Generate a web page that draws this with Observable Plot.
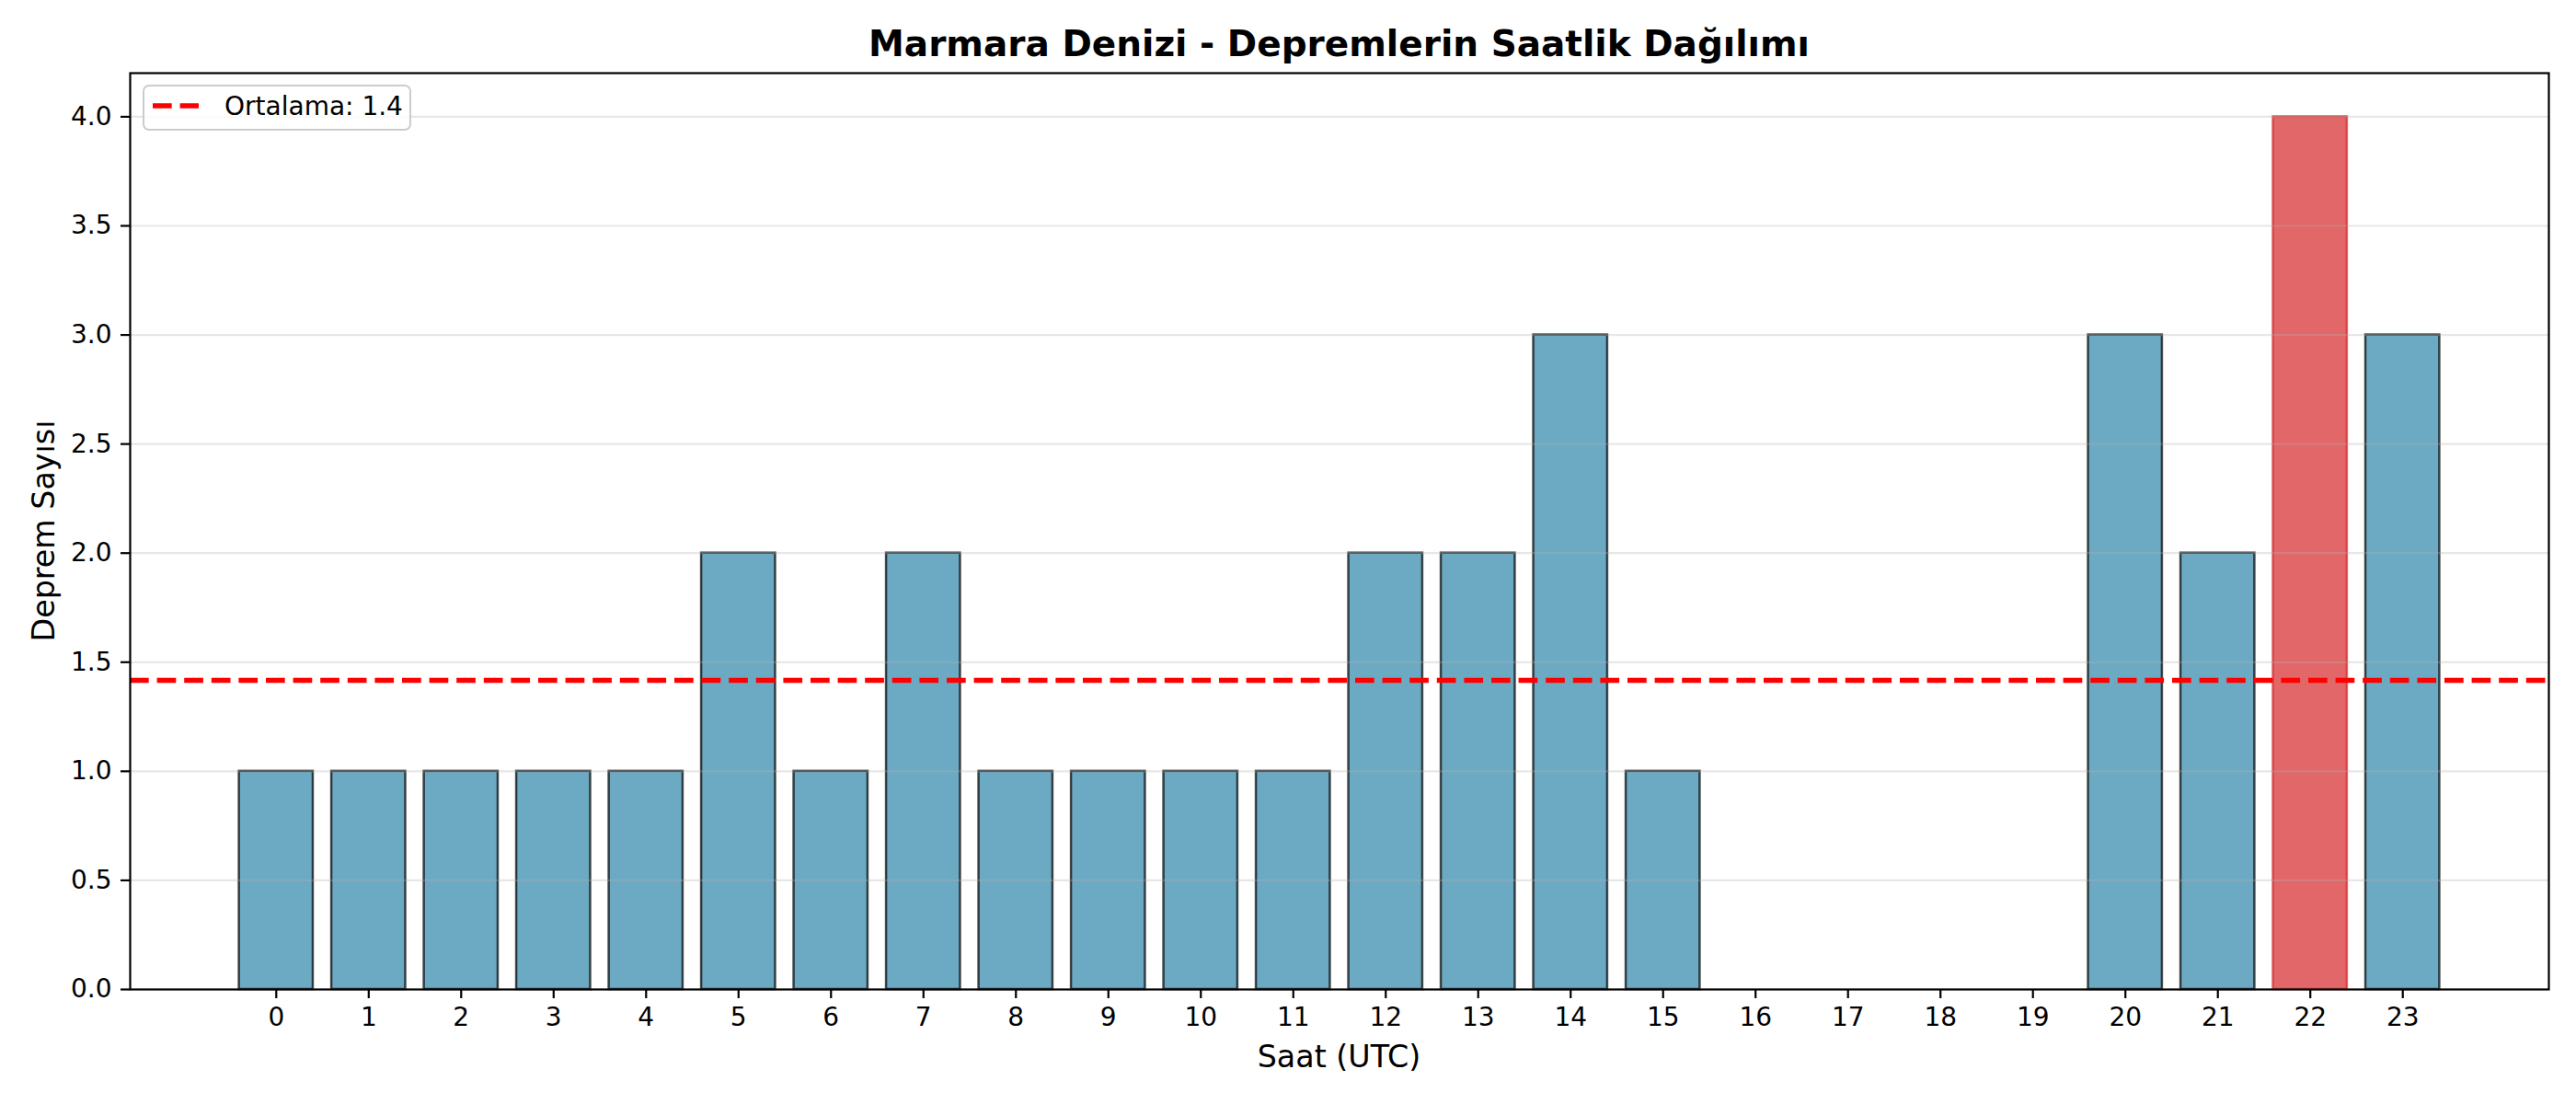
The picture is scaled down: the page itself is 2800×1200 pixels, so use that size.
<!DOCTYPE html>
<html><head><meta charset="utf-8">
<script src="https://cdn.jsdelivr.net/npm/d3@7"></script>
<script src="https://cdn.jsdelivr.net/npm/@observablehq/plot@0.6"></script>
<style>
body{margin:0;background:#fff;}
#wrap{position:relative;width:2800px;height:1200px;background:#fff;font-family:"DejaVu Sans",sans-serif;}
#wrap svg{position:absolute;left:0;top:0;}
</style></head><body><div id="wrap"></div>
<script>
const hours = [0,1,2,3,4,5,6,7,8,9,10,11,12,13,14,15,16,17,18,19,20,21,22,23];
const counts = [1,1,1,1,1,2,1,2,1,1,1,1,2,2,3,1,0,0,0,0,3,2,4,3];
const yTicks = [0,0.5,1,1.5,2,2.5,3,3.5,4];
const highlightHour = 22;
const titleText = "Marmara Denizi - Depremlerin Saatlik Dağılımı";
const xLabel = "Saat (UTC)";
const yLabel = "Deprem Sayısı";
const meanLabel = "Ortalama: 1.4";

const data = hours.map((h, i) => ({hour: h, count: counts[i]}));
const mean = d3.mean(counts);

const W = 2800, H = 1200, mL = 141, mR = 30, mT = 79, mB = 125;

const chart = Plot.plot({
  width: W, height: H,
  marginLeft: mL, marginRight: mR, marginTop: mT, marginBottom: mB,
  style: {fontFamily: "DejaVu Sans, sans-serif", fontSize: "28px", color: "#000", background: "transparent"},
  x: {type: "band", domain: hours, paddingInner: 0.2, paddingOuter: 1.18, align: 0.5, round: false},
  y: {domain: [0, 4.2]},
  marks: [
    Plot.barY(data.filter(d => d.hour !== highlightHour), {x: "hour", y: "count", inset: 0,
      fill: "#2E86AB", fillOpacity: 0.7, stroke: "#000", strokeOpacity: 0.7, strokeWidth: 2.5}),
    Plot.barY(data.filter(d => d.hour === highlightHour), {x: "hour", y: "count", inset: 0,
      fill: "#d62728", fillOpacity: 0.7, stroke: "#d62728", strokeOpacity: 0.7, strokeWidth: 2.5}),
    Plot.gridY(yTicks, {stroke: "#b0b0b0", strokeOpacity: 0.3, strokeWidth: 2.2}),
    Plot.ruleY([mean], {stroke: "#ff0000", strokeWidth: 5.6, strokeDasharray: "20.7,8.9"}),
    Plot.axisX({ticks: hours, tickSize: 10, tickPadding: 10, label: null, strokeWidth: 2.2}),
    Plot.axisY({ticks: yTicks, tickFormat: d => d.toFixed(1), tickSize: 10, tickPadding: 10, label: null, strokeWidth: 2.2}),
    Plot.frame({stroke: "#000", strokeWidth: 2.2})
  ]
});
document.getElementById("wrap").appendChild(chart);

const ov = d3.select("#wrap").append("svg").attr("width", W).attr("height", H)
  .style("font-family", "DejaVu Sans, sans-serif");
const cx = (mL + (W - mR)) / 2;
const cy = (mT + (H - mB)) / 2;
ov.append("text").attr("x", cx).attr("y", 61).attr("text-anchor", "middle")
  .attr("font-size", 39).attr("font-weight", "bold").attr("fill", "#000").text(titleText);
ov.append("text").attr("x", cx).attr("y", 1160).attr("text-anchor", "middle")
  .attr("font-size", 33.3).attr("fill", "#000").text(xLabel);
ov.append("text").attr("transform", `translate(59,${cy}) rotate(-90)`).attr("text-anchor", "middle")
  .attr("font-size", 33.3).attr("fill", "#000").text(yLabel);
// legend
const lg = ov.append("g");
lg.append("rect").attr("x", 156).attr("y", 93).attr("width", 290).attr("height", 48).attr("rx", 6)
  .attr("fill", "#fff").attr("fill-opacity", 0.8).attr("stroke", "#cccccc").attr("stroke-width", 2);
lg.append("line").attr("x1", 166).attr("x2", 216).attr("y1", 115).attr("y2", 115)
  .attr("stroke", "#ff0000").attr("stroke-width", 5.6).attr("stroke-dasharray", "20.7,8.9");
lg.append("text").attr("x", 244).attr("y", 125).attr("font-size", 28).attr("fill", "#000").text(meanLabel);
</script></body></html>
